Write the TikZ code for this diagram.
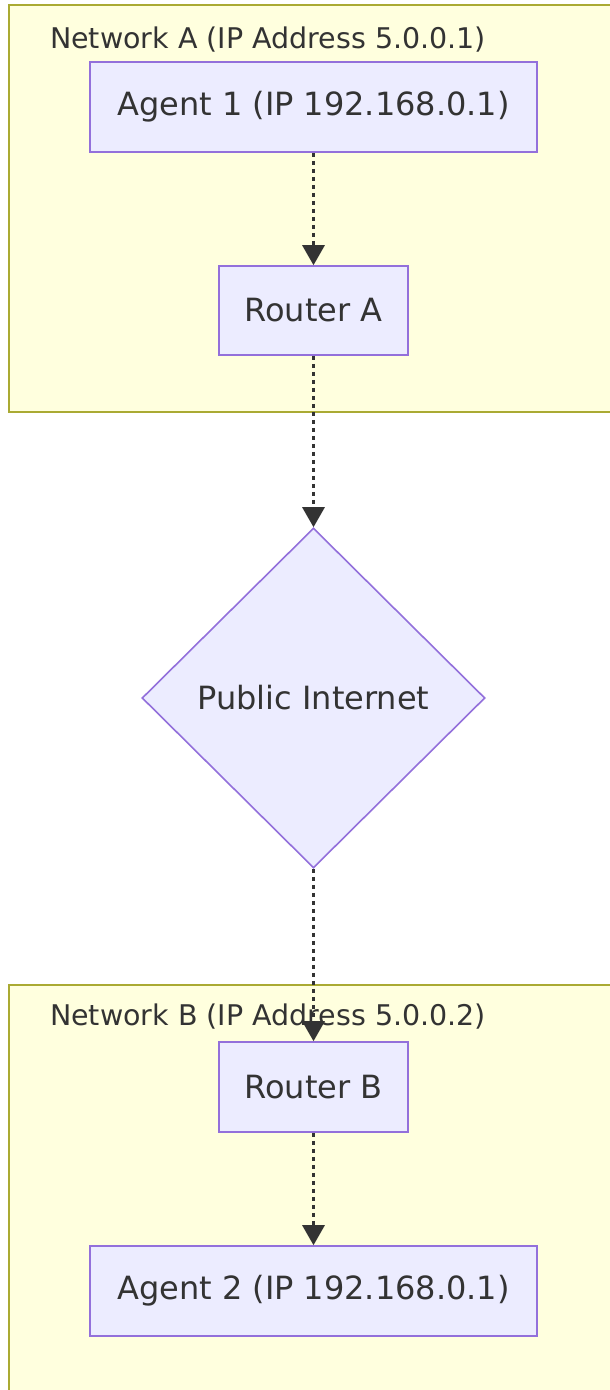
\documentclass[tikz,border=0pt]{standalone}
\usepackage{fontspec}
\setmainfont{DejaVu Sans}
\usetikzlibrary{arrows.meta,shapes.geometric}
\definecolor{nodefill}{HTML}{ECECFF}
\definecolor{nodeline}{HTML}{9370DB}
\definecolor{clusterfill}{HTML}{FFFFDE}
\definecolor{clusterline}{HTML}{AAAA33}
\definecolor{edgecol}{HTML}{333333}
\tikzset{
  boxnode/.style={draw=nodeline, fill=nodefill, line width=1.6pt, rectangle, inner sep=0pt},
  cluster/.style={draw=clusterline, fill=clusterfill, line width=1.6pt},
  label txt/.style={font=\fontsize{32}{38}\selectfont, text=edgecol},
  title txt/.style={font=\fontsize{28.5}{34}\selectfont, text=edgecol},
  flow/.style={draw=edgecol, line width=3pt, dash pattern=on 4pt off 4pt, -{Triangle[length=20pt,width=22pt]}},
}
\begin{document}
\begin{tikzpicture}[x=1pt,y=-1pt]
\useasboundingbox (0,0) rectangle (610,1390);
\fill[white] (0,0) rectangle (610,1390);
% clusters
\path[cluster] (9,5) rectangle (625,412);
\path[cluster] (9,985) rectangle (625,1400);
\node[title txt] (ta) at (268,40) {Network A (IP Address 5.0.0.1)};
\node[title txt] (tb) at (268,1017) {Network B (IP Address 5.0.0.2)};
% nodes
\node[boxnode, minimum width=447pt, minimum height=90pt, label txt] (a1) at (313.5,107) {Agent 1 (IP 192.168.0.1)};
\node[boxnode, minimum width=189pt, minimum height=89pt, label txt] (ra) at (313.5,310.5) {Router A};
\node[draw=nodeline, fill=nodefill, line width=1.6pt, diamond, aspect=1, inner sep=0pt, minimum width=343pt, minimum height=340pt, label txt] (pi) at (313.5,698) {Public Internet};
\node[boxnode, minimum width=189pt, minimum height=90pt, label txt] (rb) at (313.5,1087) {Router B};
\node[boxnode, minimum width=447pt, minimum height=90pt, label txt] (a2) at (313.5,1291) {Agent 2 (IP 192.168.0.1)};
% edges
\draw[flow] (a1.south) -- (ra.north);
\draw[flow] (ra.south) -- (pi.north);
\draw[flow] (pi.south) -- (rb.north);
\draw[flow] (rb.south) -- (a2.north);
\end{tikzpicture}
\end{document}
